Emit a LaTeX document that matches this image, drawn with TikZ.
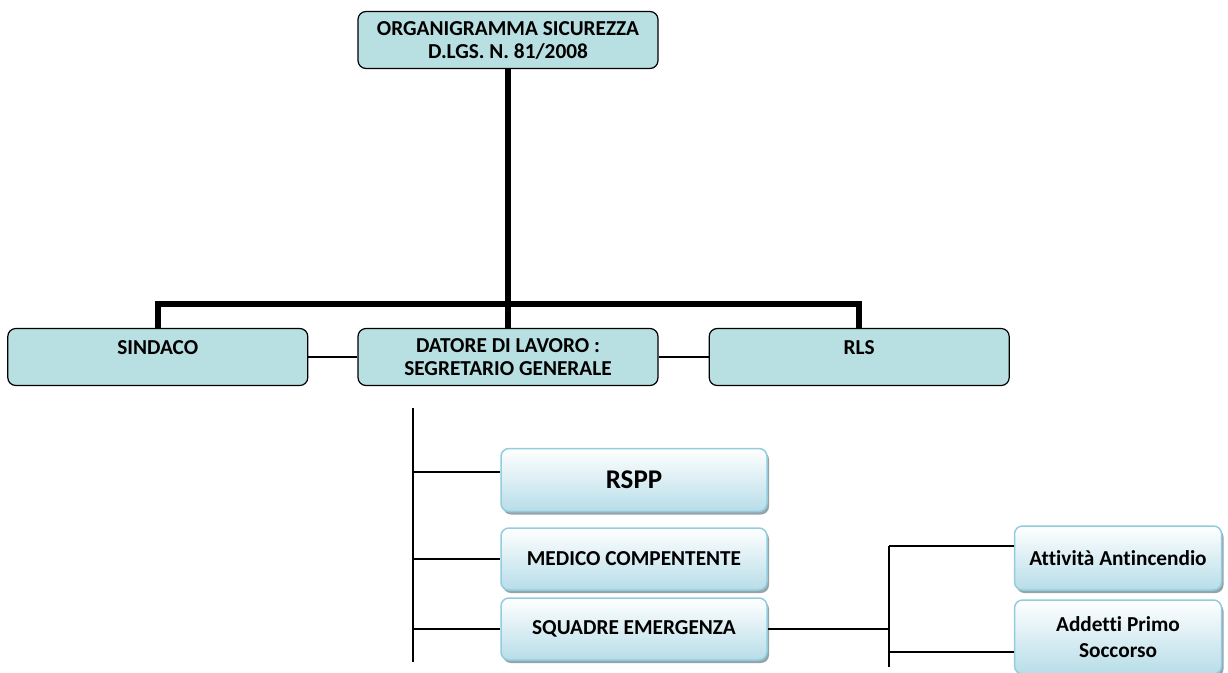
\documentclass[tikz,border=0pt]{standalone}
\usepackage{fontspec}
\setmainfont{Carlito}[RawFeature=-liga]
\usepackage{tikz}
\usetikzlibrary{positioning,shadows,calc}

\definecolor{boxfill}{RGB}{184,223,226}
\definecolor{subfill}{RGB}{183,221,232}
\definecolor{subline}{RGB}{146,205,221}
\definecolor{shadowgray}{RGB}{150,163,170}

\begin{document}
\begin{tikzpicture}[
    x=1pt, y=-1pt,
    orgbox/.style={rectangle, draw=black, line width=1.2pt, rounded corners=8pt, fill=boxfill, minimum width=300pt, minimum height=57pt, align=center, font=\bfseries\fontsize{21.3}{23}\selectfont},
    toptext/.style={anchor=north, inner sep=0pt, font=\bfseries\fontsize{21.3}{23}\selectfont},
    subbox/.style={rectangle, draw=subline, line width=1.5pt, rounded corners=8pt, top color=white, bottom color=subfill, minimum width=266pt, minimum height=62pt, align=center, font=\bfseries\fontsize{21.3}{26}\selectfont, drop shadow={shadow xshift=2pt, shadow yshift=-3pt, fill=shadowgray, opacity=1}},
    thickline/.style={line width=6pt},
    thinline/.style={line width=1.5pt}
]
\useasboundingbox (0,0) rectangle (1228,672);

\node[orgbox] (title) at (508,40) {ORGANIGRAMMA SICUREZZA\\D.LGS. N. 81/2008};

\node[orgbox] (datore) at (508,357) {DATORE DI LAVORO :\\SEGRETARIO GENERALE};
\node[orgbox, left=49pt of datore] (sindaco) {};
\node[toptext] (sindacotext) at ([yshift=-12pt]sindaco.north) {SINDACO};
\node[orgbox, right=50pt of datore] (rls) {};
\node[toptext] (rlstext) at ([yshift=-12pt]rls.north) {RLS};

\node[subbox, minimum height=63pt, font=\bfseries\fontsize{27}{30}\selectfont] (rspp) at (634,480) {RSPP};
\node[subbox] (medico) at (634,559) {MEDICO COMPENTENTE};
\node[subbox] (squadre) at (634,629) {SQUADRE EMERGENZA};

\node[subbox, minimum width=207pt, minimum height=64pt] (attivita) at (1118,558) {Attività Antincendio};
\node[subbox, minimum width=207pt, minimum height=74pt] (addetti) at (1118,637) {Addetti Primo\\Soccorso};

% top level
\coordinate (bar) at (508,304);
\draw[thickline] (title.south) -- (datore.north);
\draw[thickline] (sindaco.north) |- (bar) -| (rls.north);
\draw[thinline] (sindaco.east) -- (datore.west);
\draw[thinline] (datore.east) -- (rls.west);

% staff of the employer
\coordinate (spinetop) at (413,408);
\coordinate (spinebot) at (413,662);
\coordinate (rsppin) at ([yshift=8pt]rspp.west);
\draw[thinline] (spinetop) -- (spinebot);
\draw[thinline] (spinetop |- rsppin) -- (rsppin);
\draw[thinline] (spinetop |- medico.west) -- (medico.west);
\draw[thinline] (spinetop |- squadre.west) -- (squadre.west);

% emergency teams
\coordinate (hubtop) at (889,546);
\coordinate (hubbot) at (889,667);
\coordinate (addin) at ([yshift=-15pt]addetti.west);
\draw[thinline] (hubtop) -- (hubbot);
\draw[thinline] (squadre.east) -- (hubtop |- squadre.east);
\draw[thinline] (hubtop) -- (hubtop -| attivita.west);
\draw[thinline] (hubbot |- addin) -- (addin);

\end{tikzpicture}
\end{document}
